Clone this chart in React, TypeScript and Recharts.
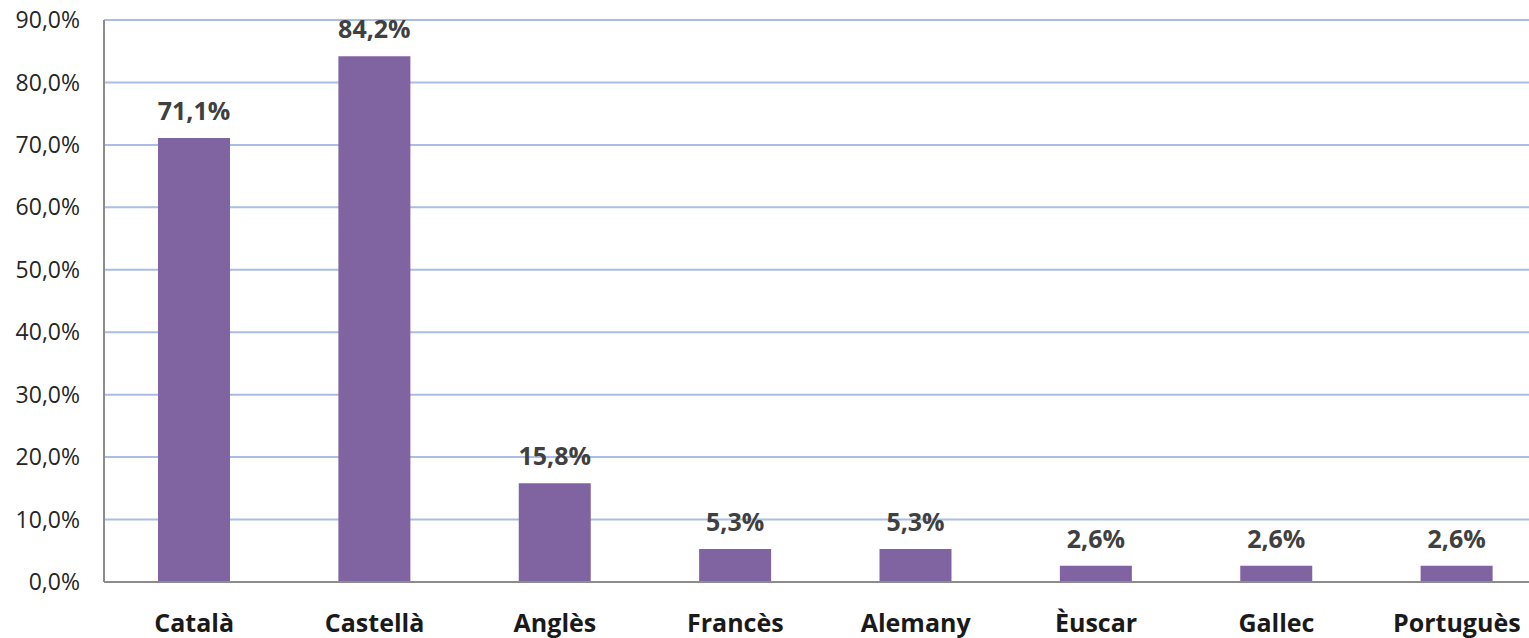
import { Bar, BarChart, CartesianGrid, LabelList, XAxis, YAxis } from "recharts";

const languages = ["Català", "Castellà", "Anglès", "Francès", "Alemany", "Èuscar", "Gallec", "Portuguès"];
const shares = [71.1, 84.2, 15.8, 5.3, 5.3, 2.6, 2.6, 2.6];
const yTicks = [0, 10, 20, 30, 40, 50, 60, 70, 80, 90];

const data = languages.map((name, i) => ({ name, value: shares[i] }));

const pct = (v: number) => v.toFixed(1).replace(".", ",") + "%";

// the original plot runs a little past the right edge of the picture, so it is clipped
export default function App() {
  return (
    <div style={{ position: "absolute", left: 0, top: 0, width: 1529, height: 638, overflow: "hidden", background: "#fff" }}>
      <BarChart
        width={1547}
        height={638}
        data={data}
        margin={{ top: 20, right: 0, bottom: 0, left: 0 }}
        barCategoryGap={0}
      >
        <CartesianGrid vertical={false} stroke="#a9bde6" strokeWidth={2} />
        <XAxis
          dataKey="name"
          height={56}
          axisLine={{ stroke: "#8c8c8c", strokeWidth: 2 }}
          tickLine={false}
          tickMargin={26}
          tick={{ fill: "#1a1a1a", fontSize: 25, fontWeight: 700, fontFamily: "Open Sans" }}
          interval={0}
        />
        <YAxis
          width={104}
          domain={[0, 90]}
          ticks={yTicks}
          tickFormatter={pct}
          axisLine={{ stroke: "#8c8c8c", strokeWidth: 2 }}
          tickLine={false}
          tickMargin={18}
          tick={{ fill: "#262626", fontSize: 23, fontFamily: "Open Sans" }}
        />
        <Bar dataKey="value" fill="#8064a2" barSize={72} isAnimationActive={false}>
          <LabelList
            dataKey="value"
            position="top"
            offset={18}
            formatter={(v: number) => pct(v)}
            style={{ fill: "#404040", fontSize: 25, fontWeight: 700, fontFamily: "Open Sans" }}
          />
        </Bar>
      </BarChart>
    </div>
  );
}
